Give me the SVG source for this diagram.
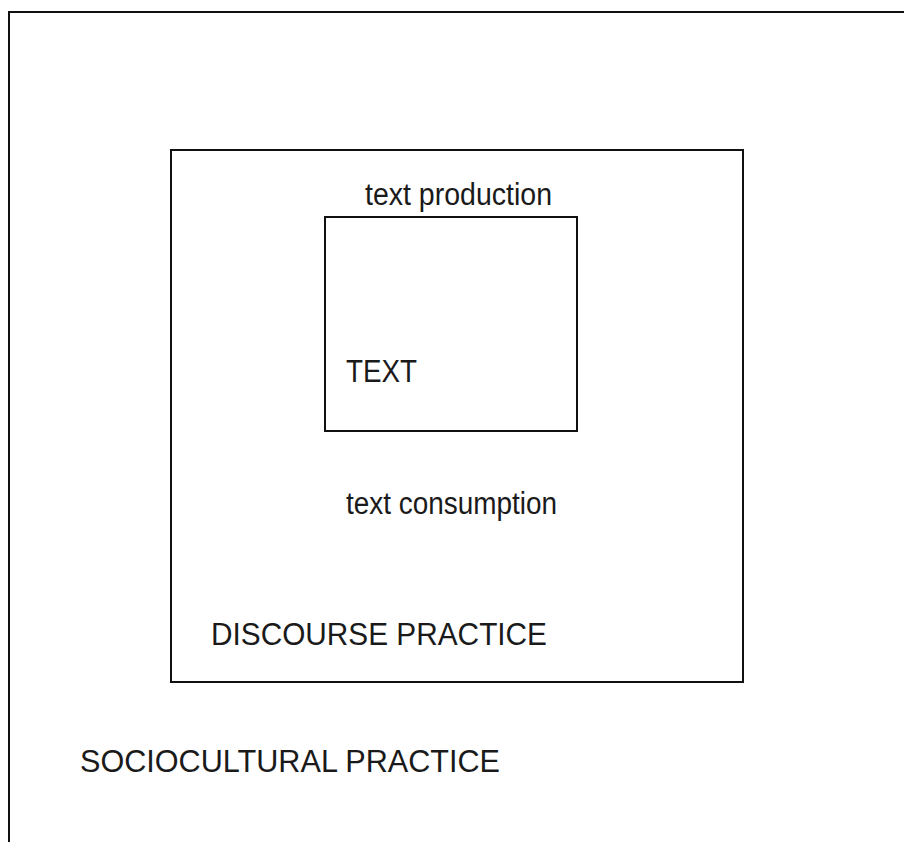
<svg xmlns="http://www.w3.org/2000/svg" width="904" height="842" viewBox="0 0 904 842">
<style>
.box{fill:none;stroke:#111;stroke-width:2}
.lbl{font-family:"Liberation Sans",Arial,sans-serif;font-size:31px;fill:#1a1a1a}
</style>
<rect width="904" height="842" fill="#fff"/>
<g id="sociocultural">
<rect class="box" x="9" y="12" width="910" height="850"/>
<text class="lbl" x="80" y="772" textLength="420" lengthAdjust="spacingAndGlyphs">SOCIOCULTURAL PRACTICE</text>
</g>
<g id="discourse">
<rect class="box" x="171" y="150" width="572" height="532"/>
<text class="lbl" x="211" y="645" textLength="336" lengthAdjust="spacingAndGlyphs">DISCOURSE PRACTICE</text>
<text class="lbl" x="365" y="205" textLength="187" lengthAdjust="spacingAndGlyphs">text production</text>
<text class="lbl" x="346" y="514" textLength="211" lengthAdjust="spacingAndGlyphs">text consumption</text>
</g>
<g id="text">
<rect class="box" x="325" y="217" width="252" height="214"/>
<text class="lbl" x="346" y="382" textLength="71" lengthAdjust="spacingAndGlyphs">TEXT</text>
</g>
<g id="connectors"></g>
</svg>
